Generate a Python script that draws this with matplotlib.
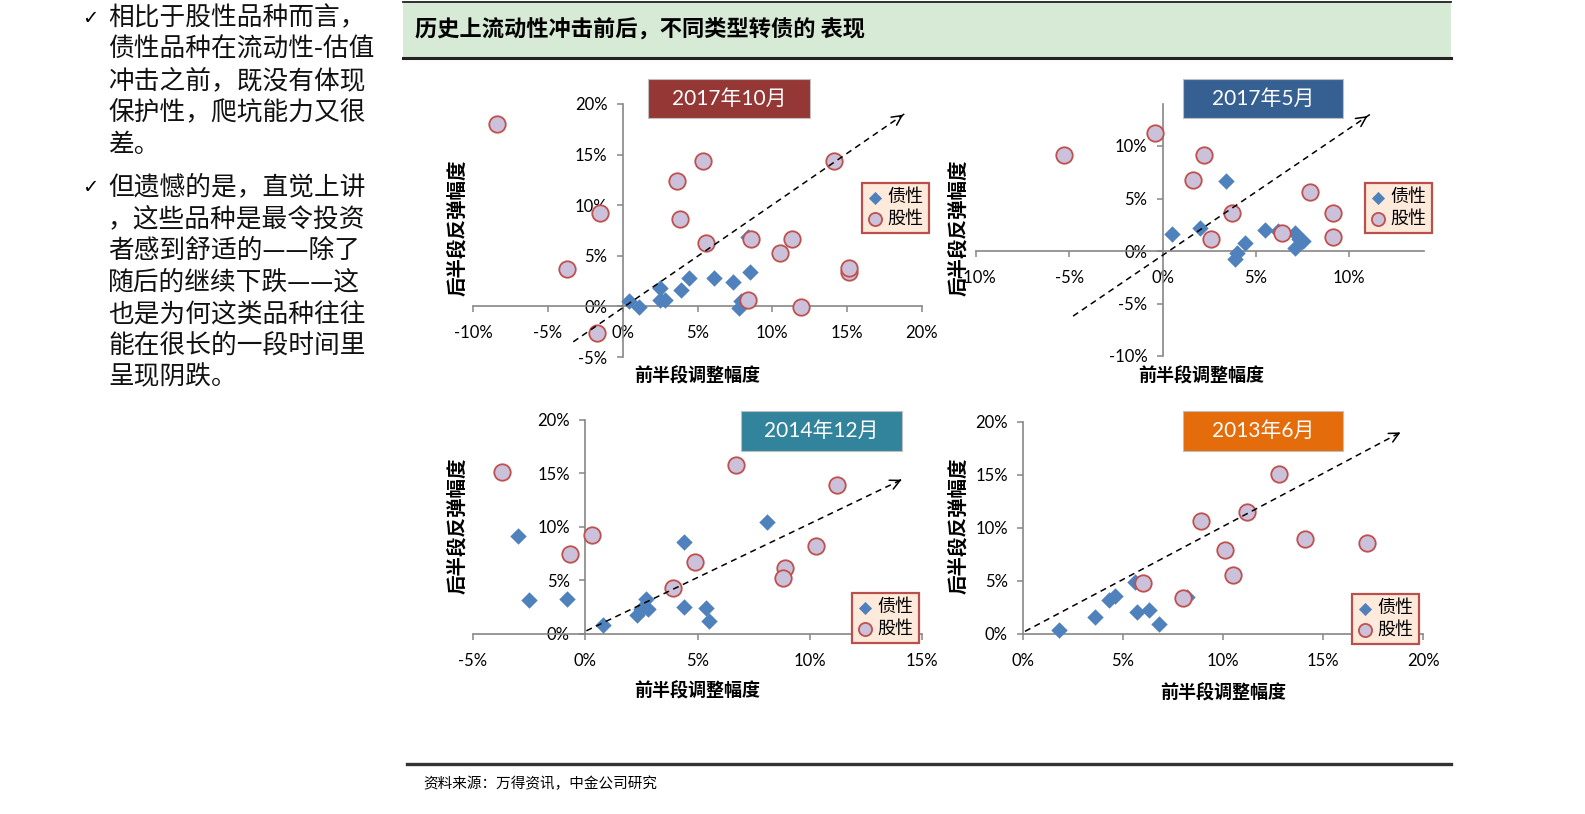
import matplotlib
matplotlib.use('Agg')
import matplotlib.pyplot as plt
from matplotlib.patches import Rectangle
from matplotlib.lines import Line2D

plt.rcParams['font.family'] = ['Lato', 'Noto Sans CJK SC', 'DejaVu Sans']

W, H = 1585, 814

# ---- data (读图估计, 单位 %) ----
# 2017年10月
oct17_bond_x = [0.4, 1.1, 2.5, 2.5, 2.8, 3.9, 4.4, 6.1, 7.4, 8.5, 7.9, 7.8, 8.4]
oct17_bond_y = [0.5, -0.1, 1.8, 0.6, 0.6, 1.6, 2.8, 2.8, 2.4, 3.4, 0.5, -0.2, 6.9]
oct17_eq_x = [-8.4, 5.4, 14.1, 3.6, -1.5, 3.8, 5.6, 8.6, 11.3, 10.5, -3.7, 15.1, 15.1, 8.4, 11.9, -1.7]
oct17_eq_y = [18.0, 14.4, 14.4, 12.4, 9.2, 8.6, 6.3, 6.7, 6.7, 5.3, 3.7, 3.4, 3.8, 0.6, -0.1, -2.6]
oct17_arrow = [(-3.3, -3.5), (18.9, 19.1)]

# 2017年5月
may17_bond_x = [0.5, 2.0, 3.4, 4.4, 4.0, 3.9, 5.5, 6.2, 7.1, 7.1, 7.5, 7.3]
may17_bond_y = [1.6, 2.2, 6.7, 0.8, -0.2, -0.8, 2.0, 1.9, 1.7, 0.3, 1.0, 1.1]
may17_eq_x = [-5.3, -0.4, 2.2, 1.6, 3.7, 2.6, 6.4, 7.9, 9.1, 9.1]
may17_eq_y = [9.1, 11.2, 9.1, 6.8, 3.6, 1.1, 1.7, 5.6, 3.6, 1.3]
may17_arrow = [(-4.8, -6.2), (11.1, 13.0)]

# 2014年12月
dec14_bond_x = [-3.0, -2.5, -0.8, 0.8, 2.3, 2.5, 2.7, 2.8, 4.4, 4.4, 5.4, 5.5, 8.1]
dec14_bond_y = [9.1, 3.2, 3.3, 0.8, 1.8, 2.3, 3.3, 2.3, 8.6, 2.5, 2.4, 1.2, 10.4]
dec14_eq_x = [-3.7, 0.3, -0.7, 6.7, 11.2, 4.9, 3.9, 10.3, 8.9, 8.8]
dec14_eq_y = [15.1, 9.2, 7.5, 15.8, 13.9, 6.7, 4.3, 8.2, 6.2, 5.2]
dec14_arrow = [(0.05, 0.3), (14.2, 14.5)]

# 2013年6月
jun13_bond_x = [1.8, 3.6, 4.3, 4.6, 5.6, 5.7, 6.3, 6.8, 8.2]
jun13_bond_y = [0.4, 1.6, 3.2, 3.6, 4.9, 2.1, 2.3, 0.9, 3.5]
jun13_eq_x = [6.0, 8.0, 8.9, 10.1, 10.5, 11.2, 12.8, 14.1, 17.2]
jun13_eq_y = [4.8, 3.4, 10.6, 7.9, 5.6, 11.5, 15.1, 8.9, 8.6]
jun13_arrow = [(0.1, 0.25), (19.0, 19.1)]

panel_titles = ['2017年10月', '2017年5月', '2014年12月', '2013年6月']
x_ticks = [[-10, -5, 0, 5, 10, 15, 20], [-10, -5, 0, 5, 10], [-5, 0, 5, 10, 15], [0, 5, 10, 15, 20]]
y_ticks = [[-5, 0, 5, 10, 15, 20], [-10, -5, 0, 5, 10], [0, 5, 10, 15, 20], [0, 5, 10, 15, 20]]
x_lims = [(-10, 20), (-10, 14), (-5, 15), (0, 20)]
y_lims = [(-5, 20), (-10, 14), (0, 20), (0, 20)]
legend_labels = ['债性', '股性']
x_label = '前半段调整幅度'
y_label = '后半段反弹幅度'

header = '历史上流动性冲击前后，不同类型转债的 表现'
source = '资料来源：万得资讯，中金公司研究'
bullets = [
    ['相比于股性品种而言，', '债性品种在流动性-估值', '冲击之前，既没有体现', '保护性，爬坑能力又很', '差。'],
    ['但遗憾的是，直觉上讲', '，这些品种是最令投资', '者感到舒适的——除了', '随后的继续下跌——这',
     '也是为何这类品种往往', '能在很长的一段时间里', '呈现阴跌。'],
]

# ---- layout (像素) ----
# axes box: left, right, top, bottom (px)
ax_boxes = [(473, 922, 104, 357), (976, 1424, 104, 356), (473, 922, 419.5, 634), (1023, 1423, 421.5, 634)]
title_boxes = [(648, 810, 79, 118), (1183, 1343, 79, 118), (741, 902, 411, 451), (1183, 1343, 411, 451)]
title_colors = ['#953735', '#376092', '#31849B', '#E46C0A']
legend_pos = [(862, 183), (1365, 183), (852, 593), (1352, 594)]
xlabel_pos = [(697, 376), (1201, 376), (697, 691), (1223, 693)]
ylabel_pos = [(457, 228), (958, 228), (457, 526), (958, 526)]

BLUE = '#4F81BD'
EQ_FACE = '#CCC1DA'
EQ_EDGE = '#C0504D'
AXC = '#868686'


def fx(px):
    return px / W


def fy(py):
    return 1 - py / H


fig = plt.figure(figsize=(15.85, 8.14), dpi=100)

panels = [
    (oct17_bond_x, oct17_bond_y, oct17_eq_x, oct17_eq_y, oct17_arrow),
    (may17_bond_x, may17_bond_y, may17_eq_x, may17_eq_y, may17_arrow),
    (dec14_bond_x, dec14_bond_y, dec14_eq_x, dec14_eq_y, dec14_arrow),
    (jun13_bond_x, jun13_bond_y, jun13_eq_x, jun13_eq_y, jun13_arrow),
]

for i, (bx, by, ex, ey, arr) in enumerate(panels):
    l, r, t, b = ax_boxes[i]
    ax = fig.add_axes([fx(l), fy(b), (r - l) / W, (b - t) / H])
    ax.set_xlim(*x_lims[i])
    ax.set_ylim(*y_lims[i])
    ax.patch.set_alpha(0)
    for s in ['top', 'right']:
        ax.spines[s].set_visible(False)
    ax.spines['left'].set_position(('data', 0))
    ax.spines['bottom'].set_position(('data', 0))
    for s in ['left', 'bottom']:
        ax.spines[s].set_color(AXC)
        ax.spines[s].set_linewidth(1.2)
    ax.set_xticks(x_ticks[i])
    ax.set_xticklabels([f'{v}%' for v in x_ticks[i]])
    ax.set_yticks(y_ticks[i])
    ax.set_yticklabels([f'{v}%' for v in y_ticks[i]])
    ax.tick_params(axis='x', direction='out', length=4, width=1.1, color=AXC, pad=9.5, labelsize=12)
    ax.tick_params(axis='y', direction='out', length=4, width=1.1, color=AXC, pad=7, labelsize=12)

    # dashed trend arrow
    (x0, y0), (x1, y1) = arr
    ax.plot([x0, x1], [y0, y1], ls=(0, (4, 3)), color='black', lw=1.1, zorder=4)
    ax.annotate('', xy=(x1, y1), xytext=(x1 - (x1 - x0) * 0.02, y1 - (y1 - y0) * 0.02),
                arrowprops=dict(arrowstyle='->,head_length=0.7,head_width=0.35', color='black', lw=1.1),
                zorder=5)

    hb = ax.scatter(bx, by, marker='D', s=70, color=BLUE, linewidths=0, zorder=3, clip_on=False)
    he = ax.scatter(ex, ey, marker='o', s=140, facecolor=EQ_FACE, edgecolor=EQ_EDGE,
                    linewidths=1.3, zorder=3, clip_on=False)

    ax.set_xlabel(x_label, fontsize=13, fontweight='bold', family=['Noto Sans CJK SC'], va='center')
    ax.xaxis.set_label_coords(fx(xlabel_pos[i][0]), fy(xlabel_pos[i][1]), transform=fig.transFigure)
    ax.set_ylabel(y_label, fontsize=14, fontweight='bold', family=['Noto Sans CJK SC'], va='center')
    ax.yaxis.set_label_coords(fx(ylabel_pos[i][0]), fy(ylabel_pos[i][1]), transform=fig.transFigure)

    leg = ax.legend([hb, he], legend_labels, loc='upper left',
                    bbox_to_anchor=(fx(legend_pos[i][0]), fy(legend_pos[i][1])),
                    bbox_transform=fig.transFigure, borderaxespad=0, fancybox=False,
                    framealpha=1, facecolor='#FDEADA', edgecolor='#B9504B',
                    prop={'family': 'Noto Sans CJK SC', 'size': 13}, scatterpoints=1,
                    handlelength=0.8, handletextpad=0.3, borderpad=0.3, labelspacing=0.2,
                    markerscale=0.8)
    leg.get_frame().set_linewidth(1.6)

    # title box
    tl, tr, tt, tb = title_boxes[i]
    fig.patches.append(Rectangle((fx(tl), fy(tb)), (tr - tl) / W, (tb - tt) / H,
                                 transform=fig.transFigure, facecolor=title_colors[i],
                                 edgecolor='#BFBFBF', lw=0.8, zorder=5))
    fig.text(fx((tl + tr) / 2), fy((tt + tb) / 2), panel_titles[i], color='white', fontsize=15,
             ha='center', va='center', zorder=6)

# header banner
fig.patches.append(Rectangle((fx(403), fy(58)), (1451 - 403) / W, 57 / H, transform=fig.transFigure,
                             facecolor='#D7EAD5', edgecolor='none', zorder=1))
fig.add_artist(Line2D([fx(403), fx(1451)], [fy(1.5), fy(1.5)], color='#222222', lw=1.3))
fig.add_artist(Line2D([fx(403), fx(1451)], [fy(57.5), fy(57.5)], color='#222222', lw=2.2))
fig.text(fx(415), fy(29), header, fontsize=16, fontweight='bold', family=['Noto Sans CJK SC'],
         ha='left', va='center')

# footer
fig.add_artist(Line2D([fx(407), fx(1451)], [fy(764), fy(764)], color='#333333', lw=2.4))
fig.text(fx(423), fy(784), source, fontsize=10.5, family=['Noto Sans CJK SC'], ha='left', va='center')

# left bullet text
line_y = 18.3
pitch = 31.7
for para in bullets:
    fig.text(fx(82), fy(line_y), '✓', fontsize=14, family=['DejaVu Sans'], ha='left', va='center')
    for ln in para:
        fig.text(fx(108), fy(line_y), ln, fontsize=18.5, family=['Noto Sans CJK SC'], ha='left',
                 va='center', color='#111111')
        line_y += pitch
    line_y += 10.5

fig.savefig('out.png', dpi=100)
